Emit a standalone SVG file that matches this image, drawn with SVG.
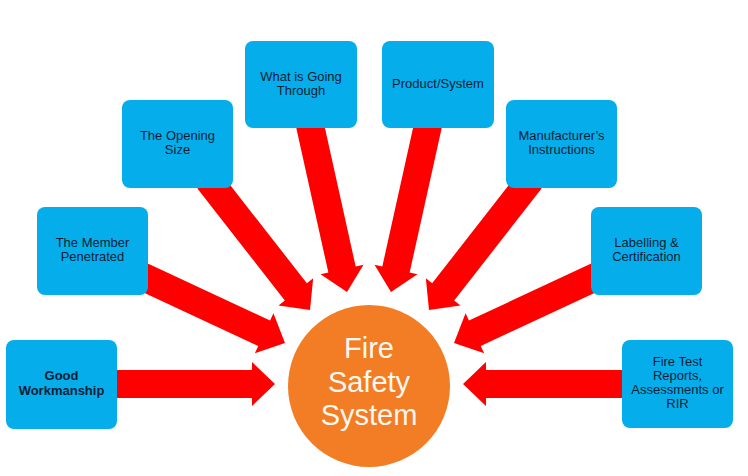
<svg xmlns="http://www.w3.org/2000/svg" width="748" height="476" viewBox="0 0 748 476">
<style>
.box{fill:#05ADEB;}
.lbl{font-family:"Liberation Sans",Arial,sans-serif;font-size:13px;fill:#0E1E36;text-anchor:middle;}
.bold{font-weight:bold;font-size:13px;}
.arrow{fill:#FF0000;}
.hub{fill:#F27D25;}
.hubtxt{font-family:"Liberation Sans",Arial,sans-serif;font-size:29px;fill:#FFF8F0;text-anchor:middle;}
</style>
<rect width="748" height="476" fill="#FFFFFF"/>
<g id="connectors">
  <polygon class="arrow" transform="translate(275,384) rotate(0)" points="0,0 -23,-22 -23,-14 -165,-14 -165,14 -23,14 -23,22"/>
  <polygon class="arrow" transform="translate(285,343) rotate(25)" points="0,0 -23,-22 -23,-14 -165,-14 -165,14 -23,14 -23,22"/>
  <polygon class="arrow" transform="translate(310,310) rotate(52)" points="0,0 -23,-22 -23,-14 -165,-14 -165,14 -23,14 -23,22"/>
  <polygon class="arrow" transform="translate(347,292) rotate(77.5)" points="0,0 -23,-22 -23,-14 -178,-14 -178,14 -23,14 -23,22"/>
  <polygon class="arrow" transform="translate(391,292) rotate(102.5)" points="0,0 -23,-22 -23,-14 -178,-14 -178,14 -23,14 -23,22"/>
  <polygon class="arrow" transform="translate(429,310) rotate(128)" points="0,0 -23,-22 -23,-14 -165,-14 -165,14 -23,14 -23,22"/>
  <polygon class="arrow" transform="translate(454,343) rotate(155)" points="0,0 -23,-22 -23,-14 -165,-14 -165,14 -23,14 -23,22"/>
  <polygon class="arrow" transform="translate(463,384) rotate(180)" points="0,0 -23,-22 -23,-14 -166,-14 -166,14 -23,14 -23,22"/>
</g>
<g id="hub">
  <circle class="hub" cx="369" cy="386" r="81"/>
  <text class="hubtxt" x="369" y="358">Fire</text>
  <text class="hubtxt" x="369" y="392">Safety</text>
  <text class="hubtxt" x="369" y="425">System</text>
</g>
<g id="good-workmanship">
  <rect class="box" x="6" y="340" width="111" height="89" rx="8"/>
  <text class="lbl bold" x="61.5" y="380">Good</text>
  <text class="lbl bold" x="61.5" y="395">Workmanship</text>
</g>
<g id="member-penetrated">
  <rect class="box" x="37" y="207" width="111" height="88" rx="8"/>
  <text class="lbl" x="92.5" y="247">The Member</text>
  <text class="lbl" x="92.5" y="261">Penetrated</text>
</g>
<g id="opening-size">
  <rect class="box" x="122" y="100" width="111" height="88" rx="8"/>
  <text class="lbl" x="177.5" y="140">The Opening</text>
  <text class="lbl" x="177.5" y="154">Size</text>
</g>
<g id="what-is-going-through">
  <rect class="box" x="245" y="41" width="112" height="87" rx="8"/>
  <text class="lbl" x="301" y="81">What is Going</text>
  <text class="lbl" x="301" y="95">Through</text>
</g>
<g id="product-system">
  <rect class="box" x="382" y="41" width="112" height="87" rx="8"/>
  <text class="lbl" x="438" y="88">Product/System</text>
</g>
<g id="manufacturers-instructions">
  <rect class="box" x="506" y="100" width="111" height="88" rx="8"/>
  <text class="lbl" x="561.5" y="140">Manufacturer’s</text>
  <text class="lbl" x="561.5" y="154">Instructions</text>
</g>
<g id="labelling-certification">
  <rect class="box" x="591" y="207" width="111" height="88" rx="8"/>
  <text class="lbl" x="646.5" y="247">Labelling &amp;</text>
  <text class="lbl" x="646.5" y="261">Certification</text>
</g>
<g id="fire-test-reports">
  <rect class="box" x="622" y="340" width="111" height="88" rx="8"/>
  <text class="lbl" x="677.5" y="366">Fire Test</text>
  <text class="lbl" x="677.5" y="380">Reports,</text>
  <text class="lbl" x="677.5" y="394">Assessments or</text>
  <text class="lbl" x="677.5" y="408">RIR</text>
</g>
</svg>
